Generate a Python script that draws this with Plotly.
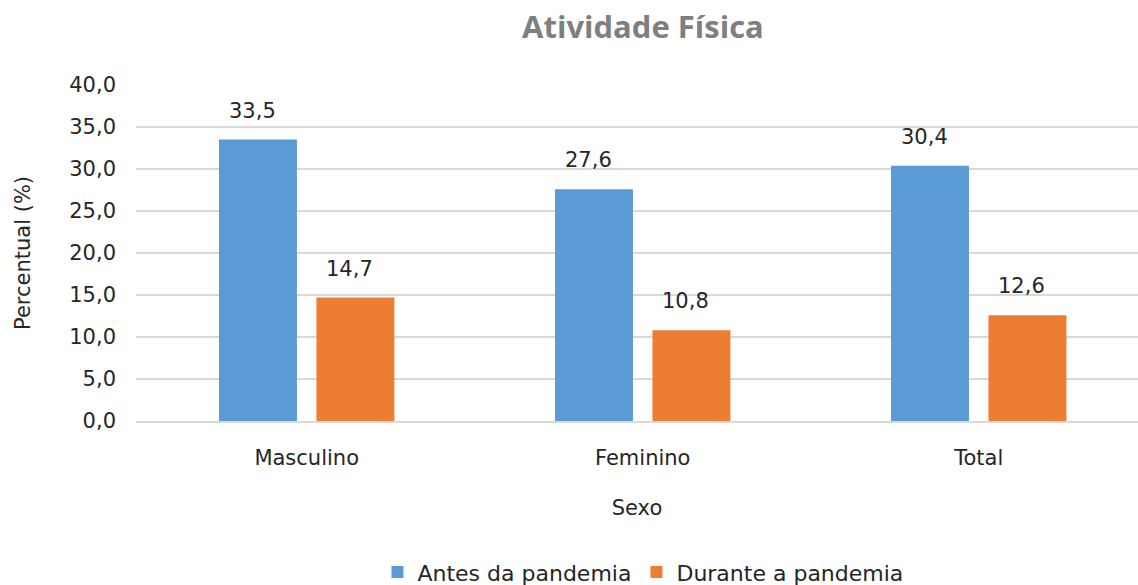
import plotly.graph_objects as go

categories = ["Masculino", "Feminino", "Total"]
antes = [33.5, 27.6, 30.4]
durante = [14.7, 10.8, 12.6]
series_names = ["Antes da pandemia", "Durante a pandemia"]
colors = ["#5B9BD5", "#ED7D31"]
y_ticks = [0, 5, 10, 15, 20, 25, 30, 35, 40]

FONT = "DejaVu Sans"
TXT = "#262626"
fig = go.Figure()
for name, vals, col in zip(series_names, [antes, durante], colors):
    fig.add_trace(go.Bar(
        x=categories, y=vals, name=name, marker_color=col,
        marker_line_width=0,
    ))

# data labels above bars
for vals, xs in [(antes, -48.5), (durante, 48.5)]:
    for c, v in zip(categories, vals):
        fig.add_annotation(
            x=c, y=v, xref="x", yref="y", text=f"{v:.1f}".replace(".", ","),
            showarrow=False, xshift=xs - 6, yshift=29,
            font=dict(family=FONT, size=21, color=TXT),
        )

fig.update_layout(
    width=1138, height=585,
    margin=dict(l=136, r=0, t=85, b=164, autoexpand=False),
    paper_bgcolor="white", plot_bgcolor="white",
    separators=",.",
    font=dict(family=FONT, size=21, color=TXT),
    title=dict(text="<b>Atividade Física</b>", x=0.565, xanchor="center",
               xref="container", yref="container",
               y=0.953, yanchor="middle",
               font=dict(family="Open Sans", size=31, color="#7F7F7F")),
    barmode="group", bargap=0.42, bargroupgap=0.2,
    showlegend=True,
    legend=dict(orientation="h", x=0.565, xanchor="center", xref="container",
                yref="container", y=0.022, yanchor="middle",
                font=dict(family=FONT, size=22, color=TXT),
                itemwidth=30, traceorder="normal"),
)
fig.update_yaxes(
    range=[0, 40], tickvals=y_ticks, tickformat=".1f", automargin=False,
    showgrid=True, gridcolor="#D9D9D9", gridwidth=2,
    zeroline=False, showline=False, ticks="", ticklabelstandoff=19,
    tickfont=dict(family=FONT, size=21, color=TXT),
    title=dict(text="Percentual (%)", standoff=32,
               font=dict(family=FONT, size=21, color=TXT)),
)
fig.update_xaxes(
    range=[-0.508, 2.474], automargin=False,
    showgrid=False, showline=True, linecolor="#D9D9D9", linewidth=2,
    ticks="", ticklabelstandoff=17,
    tickfont=dict(family=FONT, size=21, color=TXT),
    title=dict(text="Sexo", standoff=31,
               font=dict(family=FONT, size=21, color=TXT)),
)

fig.write_html("out.html", config={"displayModeBar": False},
               post_script="document.body.style.margin='0';")
